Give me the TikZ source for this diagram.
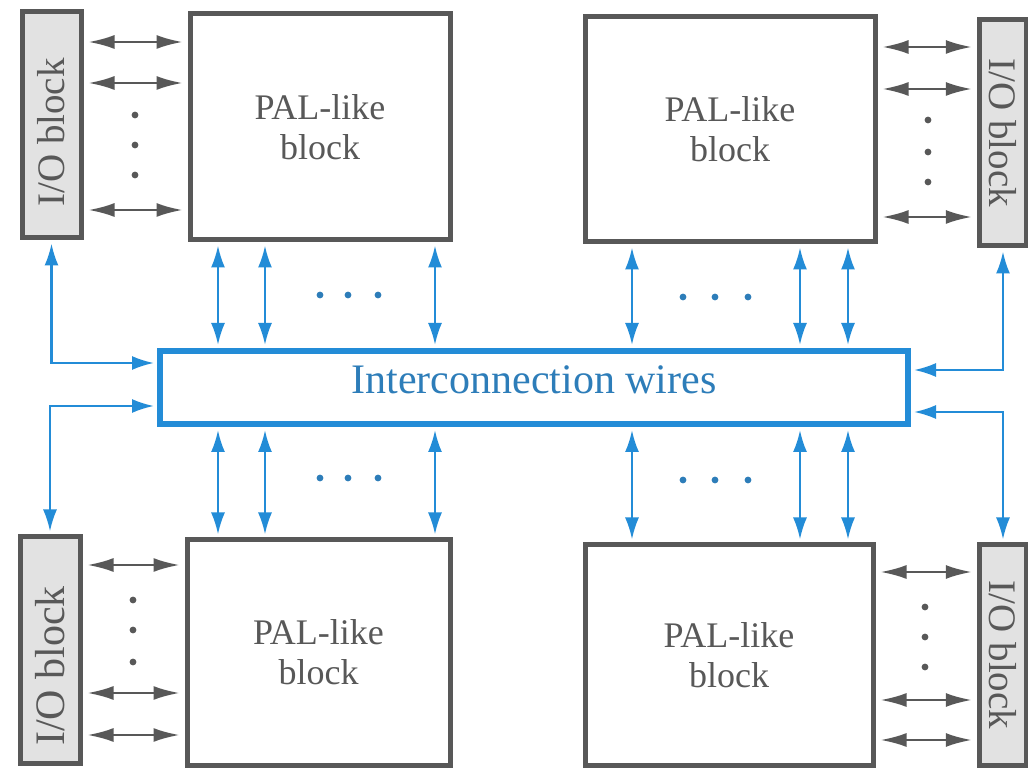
\documentclass[tikz,border=0pt]{standalone}
\usepackage{fontspec}
\setmainfont{Liberation Serif}
\definecolor{pldBlue}{RGB}{35, 140, 215}
\definecolor{pldGray}{RGB}{88, 88, 88}
\definecolor{ioFill}{RGB}{226, 226, 226}
\definecolor{wireText}{RGB}{45, 125, 185}
\usetikzlibrary{arrows.meta, positioning, calc}

\begin{document}
\begin{tikzpicture}[x=0.5pt, y=-0.5pt,
    palblock/.style={draw=pldGray, line width=2.5pt, fill=white, minimum width=#1,
                     minimum height=113pt, align=center, inner sep=0pt,
                     text=pldGray, font=\fontsize{18}{20}\selectfont},
    iobox/.style={draw=pldGray, line width=2.5pt, fill=ioFill, minimum width=#1,
                  minimum height=113pt, inner sep=0pt,
                  text=pldGray, font=\fontsize{19.5}{20}\selectfont},
    wirebox/.style={draw=pldBlue, line width=3pt, fill=white, minimum width=374pt,
                    minimum height=36.5pt, text depth=7.5pt,
                    text=wireText, font=\fontsize{21}{24}\selectfont},
    garr/.style={{Latex[length=13pt,width=7pt]}-{Latex[length=13pt,width=7pt]},
                 pldGray, line width=1.2pt, shorten <=2.5pt, shorten >=2.5pt},
    barr/.style={{Latex[length=11pt,width=7pt]}-{Latex[length=11pt,width=7pt]},
                 pldBlue, line width=1.2pt, shorten <=1.5pt, shorten >=1.5pt}
  ]
    \useasboundingbox[fill=white] (0,0) rectangle (1028,769);

    % logic blocks and I/O blocks
    \node[iobox=29.5pt] (iotl) at (51.5,125) {\rotatebox{90}{I/O block\hspace{7.5pt}}};
    \node[palblock=130pt] (paltl) at (320,127) {PAL-like\\block};
    \node[palblock=145pt, minimum height=112.5pt] (paltr) at (730,129.5) {PAL-like\\block};
    \node[iobox=23.75pt] (iotr) at (1003,133) {\rotatebox{-90}{I/O block}};

    \node[wirebox] (wires) at (534,387.5) {Interconnection wires};

    \node[iobox=30pt, font=\fontsize{21}{22}\selectfont] (iobl) at (50,650)
      {\rotatebox{90}{I/O block\hspace{16pt}}};
    \node[palblock=131.5pt, minimum height=112.5pt] (palbl) at (318.5,652.5) {PAL-like\\block};
    \node[palblock=144pt, minimum height=110pt] (palbr) at (729,655) {PAL-like\\block};
    \node[iobox=23.75pt, minimum height=110pt] (iobr) at (1003,655) {\rotatebox{-90}{I/O block}};

    % I/O pins
    \foreach \y in {42,83,210} \draw[garr] (iotl.east |- 0,\y) -- (paltl.west |- 0,\y);
    \foreach \y in {47,89,217} \draw[garr] (paltr.east |- 0,\y) -- (iotr.west |- 0,\y);
    \foreach \y in {565,693,735} \draw[garr] (iobl.east |- 0,\y) -- (palbl.west |- 0,\y);
    \foreach \y in {572,700,740} \draw[garr] (palbr.east |- 0,\y) -- (iobr.west |- 0,\y);

    \foreach \y in {115,145,175} \fill[pldGray] (135,\y) circle (1.7pt);
    \foreach \y in {120,152,182} \fill[pldGray] (928,\y) circle (1.7pt);
    \foreach \y in {600,630,662} \fill[pldGray] (133,\y) circle (1.7pt);
    \foreach \y in {607,637,667} \fill[pldGray] (925,\y) circle (1.7pt);

    % blocks to interconnect
    \foreach \x in {218,265,435} {
      \draw[barr] (paltl.south -| \x,0) -- (wires.north -| \x,0);
      \draw[barr] (wires.south -| \x,0) -- (palbl.north -| \x,0);
    }
    \foreach \x in {632,800,848} {
      \draw[barr] (paltr.south -| \x,0) -- (wires.north -| \x,0);
      \draw[barr] (wires.south -| \x,0) -- (palbr.north -| \x,0);
    }
    \foreach \x in {320,348,378} {
      \fill[wireText] (\x,295) circle (1.7pt);
      \fill[wireText] (\x,478) circle (1.7pt);
    }
    \foreach \x in {683,715,748} {
      \fill[wireText] (\x,297) circle (1.7pt);
      \fill[wireText] (\x,480) circle (1.7pt);
    }

    % I/O blocks to interconnect
    \draw[barr] (iotl.south) |- (wires.west |- 0,363);
    \draw[barr] (iobl.north) |- (wires.west |- 0,406);
    \draw[barr] (iotr.south) |- (wires.east |- 0,370);
    \draw[barr] (iobr.north) |- (wires.east |- 0,412);
  \end{tikzpicture}
\end{document}
